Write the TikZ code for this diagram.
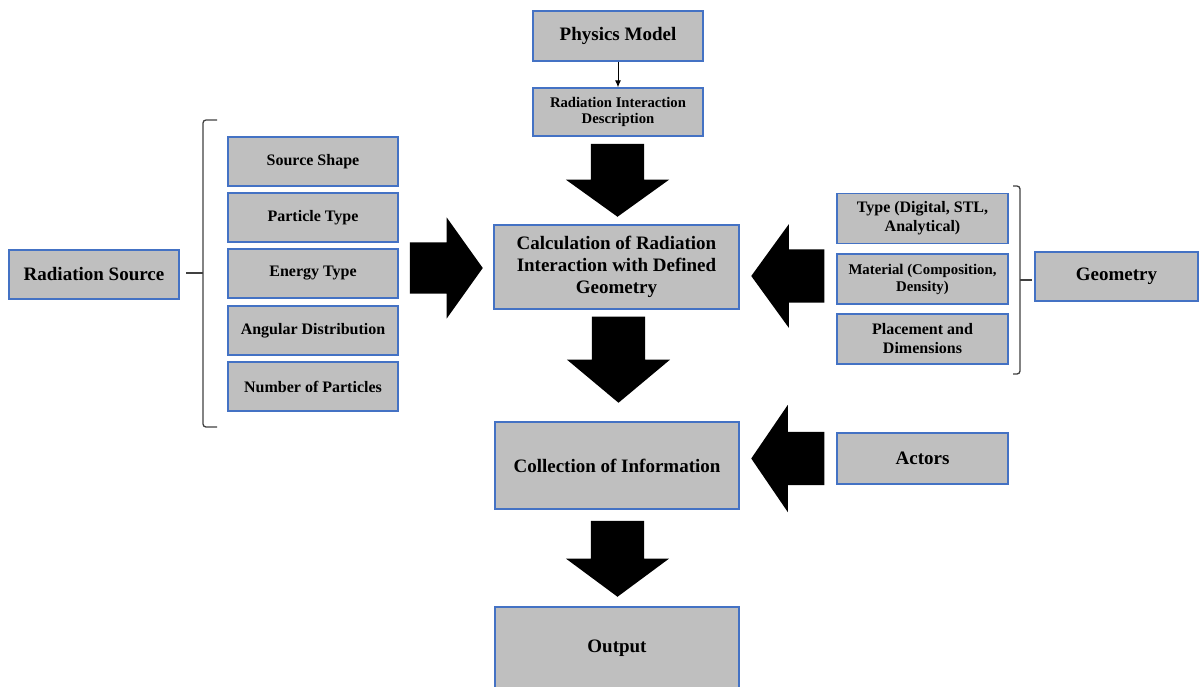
\documentclass[tikz,border=0pt]{standalone}
\usepackage{fontspec}
\setmainfont{Liberation Serif}
\usetikzlibrary{positioning,arrows.meta,shapes.arrows}

\definecolor{boxfill}{RGB}{191,191,191}
\definecolor{boxline}{RGB}{68,114,196}
\definecolor{bracegray}{RGB}{64,64,64}

\begin{document}
\begin{tikzpicture}[x=1pt, y=-1pt,
    box/.style={draw=boxline, fill=boxfill, line width=1.3pt, inner sep=0pt,
      align=center, font=\bfseries\fontsize{19}{22}\selectfont},
    item/.style={box, minimum width=170, minimum height=49,
      font=\bfseries\fontsize{16}{19}\selectfont},
    bigarrow/.style={single arrow, fill=black, anchor=tip,
      single arrow head extend=25},
    downarrow/.style={bigarrow, shape border rotate=270,
      inner xsep=26.5pt, inner ysep=0pt},
    sidearrow/.style={bigarrow, inner xsep=0pt, inner ysep=26.5pt},
    brace/.style={draw=bracegray, line width=1.3pt, rounded corners=3pt}]

    \useasboundingbox (0,0) rectangle (1199,686);
    \clip (0,0) rectangle (1199,686);

    % boxes

    \node[box, minimum width=170, minimum height=50] (phys) at (618,36) {Physics Model};
    \node[box, minimum width=170, minimum height=48,
      font=\bfseries\fontsize{14.7}{15.5}\selectfont] (rid) at (618,112)
      {Radiation Interaction\\Description};
    \node[box, minimum width=245, minimum height=84] (calc) at (616.5,267)
      {Calculation of Radiation\\Interaction with Defined\\Geometry};
    \node[box, minimum width=244, minimum height=87] (coll) at (617,465.5)
      {Collection of Information};
    \node[box, minimum width=244, minimum height=82] (out) at (617,648)
      {Output};
    \node[box, minimum width=171, minimum height=51] (act) at (922.5,458.5)
      {Actors};

    \node[box, minimum width=170, minimum height=49] (src) at (94,274.5)
      {Radiation Source};
    \node[item] (shape) at (313,161.5) {Source Shape};
    \node[item] (ptype) at (313,217.5) {Particle Type};
    \node[item] (etype) at (313,273.5) {Energy Type};
    \node[item] (angle) at (313,330.5) {Angular Distribution};
    \node[item] (num) at (313,386.5) {Number of Particles};

    \node[box, minimum width=163, minimum height=49] (geom) at (1116.5,276.5)
      {Geometry};
    \node[item, minimum width=171, minimum height=50] (gtype) at (922.5,218.5)
      {Type (Digital, STL,\\Analytical)};
    \node[item, minimum width=171, minimum height=50,
      font=\bfseries\fontsize{14.8}{17}\selectfont] (mat) at (922.5,279)
      {Material (Composition,\\Density)};
    \node[item, minimum width=171, minimum height=50] (place) at (922.5,339)
      {Placement and\\Dimensions};

    % arrows

    \draw[line width=1pt, -{Latex[length=7pt,width=6pt]}] (phys) -- (rid);

    \node[downarrow, minimum height=73, single arrow tip angle=108.6]
      (a1) at (617.5,217) {};
    \node[downarrow, minimum height=86, single arrow tip angle=100.2]
      (a2) at (618.5,403) {};
    \node[downarrow, minimum height=76, single arrow tip angle=107]
      (a3) at (617.5,597) {};
    \node[sidearrow, shape border rotate=180, minimum height=73,
      single arrow head extend=27, single arrow tip angle=111.4]
      (a4) at (751,458.5) {};
    \node[sidearrow, shape border rotate=180, minimum height=73,
      single arrow tip angle=108.1] (a5) at (751,276) {};
    \node[sidearrow, minimum height=73, inner ysep=25.5pt,
      single arrow tip angle=109] (a6) at (483,268) {};

    % braces

    \draw[brace] (217,120) -- (203,120) -- (203,427) -- (217,427);
    \draw[brace] (203,273) -- (186,273);
    \draw[brace] (1013,186) -- (1020,186) -- (1020,374) -- (1013,374);
    \draw[brace] (1020,280) -- (1032,280);
  \end{tikzpicture}
\end{document}
